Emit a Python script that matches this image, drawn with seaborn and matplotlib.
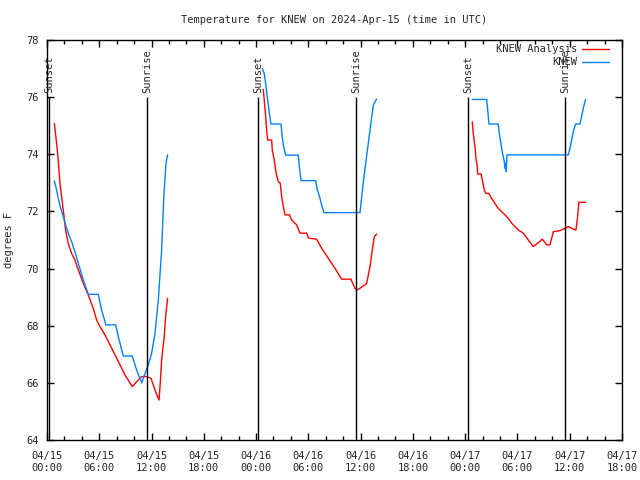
"""Temperature for KNEW, analysis vs. observations, drawn gnuplot style."""
import matplotlib.dates as mdates
import matplotlib.pyplot as plt
import pandas as pd
import seaborn as sns

BASE = pd.Timestamp("2024-04-15 00:00")

# hours after BASE, degrees F, one list per night
analysis_hours_1 = [0.84, 1.11, 1.29, 1.49, 1.68, 1.87, 2.14, 2.44, 2.83, 3.21, 3.6,
                    4.17, 4.74, 5.32, 5.7, 6.08, 6.66, 7.23, 7.81, 8.38, 8.95, 9.79,
                    10.29, 10.87, 11.44, 11.94, 12.4, 12.86, 13.0, 13.16, 13.46,
                    13.62, 13.85]
analysis_temp_1 = [75.08, 74.38, 73.8, 72.98, 72.52, 72.05, 71.35, 70.88, 70.53, 70.3,
                   69.95, 69.48, 69.08, 68.6, 68.2, 67.97, 67.68, 67.33, 66.98, 66.63,
                   66.28, 65.87, 66.04, 66.22, 66.22, 66.16, 65.75, 65.4, 65.98, 66.8,
                   67.62, 68.32, 68.96]
analysis_hours_2 = [24.83, 24.94, 25.1, 25.21, 25.33, 25.79, 25.86, 26.09, 26.25, 26.4,
                    26.55, 26.78, 26.94, 27.13, 27.32, 27.82, 28.09, 28.66, 29.04,
                    29.81, 30.0, 30.95, 31.53, 32.29, 33.06, 33.82, 34.89, 35.35,
                    35.55, 35.93, 36.69, 37.08, 37.34, 37.57, 37.84]
analysis_temp_2 = [76.27, 75.9, 75.32, 74.85, 74.5, 74.5, 74.15, 73.8, 73.45, 73.22,
                   73.05, 72.98, 72.52, 72.17, 71.88, 71.88, 71.7, 71.53, 71.24, 71.24,
                   71.07, 71.03, 70.71, 70.36, 70.01, 69.63, 69.63, 69.31, 69.25,
                   69.31, 69.48, 70.07, 70.65, 71.12, 71.21]
analysis_hours_3 = [48.82, 48.93, 49.13, 49.24, 49.4, 49.43, 49.82, 49.97, 50.2, 50.39,
                    50.73, 51.04, 51.42, 51.8, 52.19, 52.57, 52.95, 53.34, 53.72, 54.1,
                    54.68, 55.25, 55.82, 56.33, 56.86, 57.36, 57.74, 58.12, 58.89,
                    59.46, 59.84, 60.22, 60.72, 60.91, 61.06, 61.83]
analysis_temp_3 = [75.14, 74.73, 74.27, 73.86, 73.57, 73.31, 73.31, 73.1, 72.75, 72.63,
                   72.63, 72.46, 72.28, 72.11, 71.99, 71.88, 71.76, 71.59, 71.47, 71.35,
                   71.24, 71.0, 70.77, 70.89, 71.03, 70.83, 70.83, 71.29, 71.33, 71.41,
                   71.47, 71.41, 71.35, 71.82, 72.32, 72.32]

obs_hours_1 = [0.84, 1.11, 1.3, 1.57, 1.87, 2.14, 2.45, 2.83, 3.21, 3.6, 4.17, 4.74,
               5.89, 6.27, 6.77, 7.88, 8.19, 8.76, 9.79, 10.29, 10.67, 10.87, 11.25,
               11.63, 12.01, 12.4, 12.78, 13.16, 13.43, 13.66, 13.85]
obs_temp_1 = [73.07, 72.75, 72.46, 72.11, 71.82, 71.53, 71.23, 70.94, 70.59, 70.18,
              69.6, 69.1, 69.1, 68.55, 68.03, 68.03, 67.62, 66.94, 66.94, 66.45, 66.16,
              66.0, 66.33, 66.63, 67.03, 67.73, 68.9, 70.65, 72.63, 73.68, 73.98]
obs_hours_2 = [24.71, 24.94, 25.1, 25.28, 25.48, 25.71, 26.86, 27.0, 27.17, 27.4,
               28.85, 28.96, 29.16, 30.84, 30.99, 31.34, 31.53, 31.8, 35.93, 36.3,
               36.69, 37.08, 37.46, 37.84]
obs_temp_2 = [77.0, 76.83, 76.48, 76.02, 75.55, 75.06, 75.06, 74.62, 74.27, 73.97,
              73.97, 73.57, 73.08, 73.08, 72.81, 72.46, 72.22, 71.96, 71.96, 73.0,
              73.93, 74.85, 75.73, 75.94]
obs_hours_3 = [48.82, 50.47, 50.59, 50.74, 51.8, 51.92, 52.11, 52.26, 52.49, 52.57,
               52.65, 52.72, 52.8, 59.84, 60.03, 60.22, 60.45, 60.68, 61.18, 61.37,
               61.6, 61.83]
obs_temp_3 = [75.92, 75.92, 75.55, 75.06, 75.06, 74.73, 74.38, 74.09, 73.75, 73.51,
              73.69, 73.4, 73.98, 73.98, 74.21, 74.5, 74.85, 75.06, 75.06, 75.32,
              75.67, 75.92]

sun_hours = [0.27, 11.51, 24.26, 35.48, 48.37, 59.52]
sun_labels = ["Sunset", "Sunrise", "Sunset", "Sunrise", "Sunset", "Sunrise"]

series_names = ["KNEW Analysis", "KNEW"]
series_colors = ["#ff0000", "#0080ff"]


def main():
    rows = []
    analysis = [(analysis_hours_1, analysis_temp_1), (analysis_hours_2, analysis_temp_2),
                (analysis_hours_3, analysis_temp_3)]
    obs = [(obs_hours_1, obs_temp_1), (obs_hours_2, obs_temp_2), (obs_hours_3, obs_temp_3)]
    for name, parts in zip(series_names, [analysis, obs]):
        for night, (hours, temps) in enumerate(parts):
            for h, t in zip(hours, temps):
                rows.append({"time": BASE + pd.Timedelta(hours=h), "temp": t,
                             "series": name, "night": night})
    df = pd.DataFrame(rows)

    sns.set_style("ticks")
    plt.rcParams["font.family"] = ["DejaVu Sans Mono"]
    plt.rcParams["font.size"] = 7

    fig = plt.figure(figsize=(6.4, 4.8), dpi=100)
    ax = fig.add_axes([0.0734, 0.0833, 0.8984, 0.8333])

    sns.lineplot(data=df, x="time", y="temp", hue="series", units="night",
                 estimator=None, palette=dict(zip(series_names, series_colors)),
                 hue_order=series_names, linewidth=1, ax=ax)

    for h, label in zip(sun_hours, sun_labels):
        t = BASE + pd.Timedelta(hours=h)
        ax.vlines(t, 64, 76, color="black", linewidth=1)
        ax.text(t, 76.15, label, rotation=90, ha="center", va="bottom", fontsize=7.5)

    ax.set_xlim(BASE, BASE + pd.Timedelta(hours=66))
    ax.set_ylim(64, 78)
    ax.set_yticks(range(64, 79, 2))
    ax.xaxis.set_major_locator(mdates.HourLocator(byhour=[0, 6, 12, 18]))
    ax.xaxis.set_minor_locator(mdates.HourLocator(byhour=range(0, 24, 2)))
    ax.xaxis.set_major_formatter(mdates.DateFormatter("%m/%d\n%H:%M"))
    ax.tick_params(which="both", direction="in", top=True, right=True,
                   labelsize=7.5, color="black", width=1)
    ax.tick_params(axis="x", which="major", length=5, pad=8)
    ax.tick_params(axis="y", which="major", length=5, pad=6)
    ax.tick_params(which="minor", length=3)
    for spine in ax.spines.values():
        spine.set_color("black")
        spine.set_linewidth(1)

    ax.set_xlabel("")
    ax.set_ylabel("degrees F", fontsize=7.5, labelpad=9)
    ax.set_title("Temperature for KNEW on 2024-Apr-15 (time in UTC)", fontsize=7.5, pad=12)

    ax.legend(loc="upper right", bbox_to_anchor=(0.985, 1.0), frameon=False,
              markerfirst=False, fontsize=7.5, handlelength=2.6, handletextpad=0.5,
              borderaxespad=0.0, labelspacing=0.3)

    fig.savefig("out.png", dpi=100)
    return 0


if __name__ == "__main__":
    raise SystemExit(main())
